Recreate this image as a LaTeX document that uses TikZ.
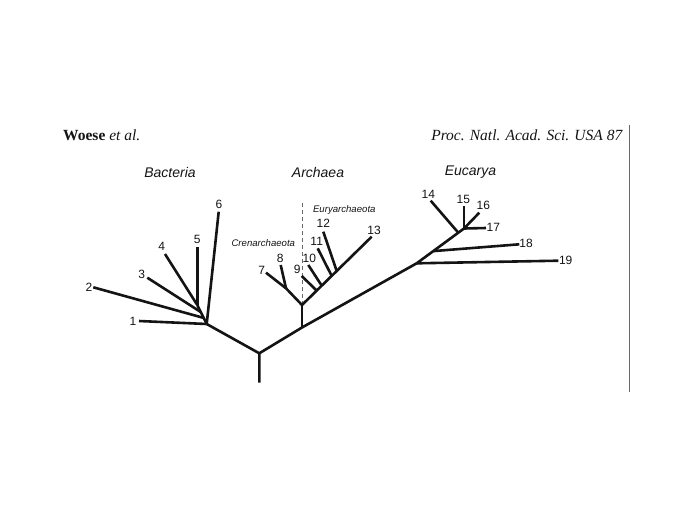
\documentclass[tikz,border=0pt]{standalone}
\usepackage{fontspec}
\setmainfont{Liberation Serif}
\setsansfont{Liberation Sans}
\usetikzlibrary{positioning,calc}
\definecolor{ink}{RGB}{20,20,20}
\definecolor{rulegray}{RGB}{105,105,105}
\tikzset{
  branch/.style={line width=2.6pt,draw=ink},
  leaf/.style={font=\sffamily\fontsize{12}{13}\selectfont,inner sep=0pt,text=ink},
  domname/.style={font=\sffamily\itshape\fontsize{14}{16}\selectfont,inner sep=0pt,text=ink},
  phylum/.style={font=\sffamily\itshape\fontsize{9.6}{11}\selectfont,inner sep=0pt,text=ink},
  head/.style={font=\fontsize{15.5}{18}\selectfont,inner sep=0pt,text=ink},
  divide/.style={draw=rulegray,line width=0.8pt,dash pattern=on 4pt off 3pt},
}

\begin{document}
\begin{tikzpicture}[x=1pt,y=-1pt]
  \useasboundingbox (0,0) rectangle (689,517);
  % header
  \node[head,anchor=base west] (author) at (63,140) {\textbf{Woese} \textit{et al.}};
  \node[head,anchor=base east] (journal) at (623,140) {\textit{Proc. Natl. Acad. Sci. USA 87}};
  \coordinate (ruletop) at (629.3,125);
  \coordinate (rulebot) at (629.3,392);
  \draw[rulegray,line width=1.2pt] (ruletop) -- (rulebot);

  % domains
  \node[domname] (bact) at (170,172) {Bacteria};
  \node[domname] (arch) at (318,172) {Archaea};
  \node[domname] (euca) at (470.5,172) {Eucarya};
  \node[phylum] (cren) at (263.3,243.3) {Crenarchaeota};
  \node[phylum] (eury) at (344.3,210) {Euryarchaeota};

  % trunk
  \coordinate (root) at (259.3,382.7);
  \coordinate (R) at (259.3,353.3);
  \coordinate (B0) at (206.7,324);
  \coordinate (A0) at (302,327.5);
  \coordinate (E0) at (416.7,263.3);
  \draw[branch] (root) -- (R) -- (B0);
  \draw[branch] (R) -- (A0) -- (E0);

  % Bacteria
  \coordinate (B3) at (197.3,305);
  \coordinate (B1) at ($(B0)!0.32!(B3)$);
  \coordinate (B2) at ($(B0)!0.63!(B3)$);
  \coordinate (t1) at (139,321);
  \coordinate (t2) at (93.3,287.3);
  \coordinate (t3) at (147.3,277.7);
  \coordinate (t4) at (165,254);
  \coordinate (t5) at (197.3,247.3);
  \coordinate (t6) at (218.7,211.7);
  \draw[branch] (B0) -- (B3);
  \draw[branch] (B0) -- (t1);
  \draw[branch] (B1) -- (t2);
  \draw[branch] (B2) -- (t3);
  \draw[branch] (B3) -- (t4);
  \draw[branch] (B3) -- (t5);
  \draw[branch] (B0) -- (t6);

  % Archaea
  \coordinate (A1) at (302,305);
  \coordinate (Atop) at (302,203);
  \draw[divide] (Atop) -- (A1);
  \draw[branch] (A0) -- (A1);
  \coordinate (C0) at (286,288.3);
  \coordinate (t7) at (266,272.7);
  \coordinate (t8) at (280.7,265);
  \draw[branch] (A1) -- (C0) -- (t7);
  \draw[branch] (C0) -- (t8);
  \coordinate (t13) at (371.7,236.7);
  \draw[branch] (A1) -- (t13);
  \coordinate (t9) at (301.7,276);
  \coordinate (t10) at (308.3,265);
  \coordinate (t11) at (317.7,248.3);
  \coordinate (t12) at (323.3,231.7);
  \draw[branch] ($(A1)!0.211!(t13)$) -- (t9);
  \draw[branch] ($(A1)!0.283!(t13)$) -- (t10);
  \draw[branch] ($(A1)!0.426!(t13)$) -- (t11);
  \draw[branch] ($(A1)!0.498!(t13)$) -- (t12);

  % Eucarya
  \coordinate (E1) at (433.3,251.1);
  \coordinate (E2) at (458.3,232.7);
  \coordinate (E3) at (464,228.5);
  \coordinate (t14) at (430.7,200.7);
  \coordinate (t15) at (464,206);
  \coordinate (t16) at (479.3,212.7);
  \coordinate (t17) at (486,228);
  \coordinate (t18) at (519.3,244.3);
  \coordinate (t19) at (558.3,260.7);
  \draw[branch] (E0) -- (E3);
  \draw[branch] (E0) -- (t19);
  \draw[branch] (E1) -- (t18);
  \draw[branch] (E2) -- (t14);
  \draw[branch] (E3) -- (t15);
  \draw[branch] (E3) -- (t16);
  \draw[branch] (E3) -- (t17);

  % leaf numbers
  \node[leaf] (n1) at (133,321) {1};
  \node[leaf] (n2) at (89,287) {2};
  \node[leaf] (n3) at (141.7,274.3) {3};
  \node[leaf] (n4) at (161.7,246.7) {4};
  \node[leaf] (n5) at (197.3,239) {5};
  \node[leaf] (n6) at (219,204) {6};
  \node[leaf] (n7) at (261.7,270) {7};
  \node[leaf] (n8) at (280.3,258.3) {8};
  \node[leaf] (n9) at (297.3,269.3) {9};
  \node[leaf] (n10) at (309.3,258.3) {10};
  \node[leaf] (n11) at (316.7,241.7) {11};
  \node[leaf] (n12) at (323.3,223.3) {12};
  \node[leaf] (n13) at (374,230) {13};
  \node[leaf] (n14) at (428.3,194) {14};
  \node[leaf] (n15) at (463.3,199) {15};
  \node[leaf] (n16) at (483.3,205.7) {16};
  \node[leaf] (n17) at (493.3,227.7) {17};
  \node[leaf] (n18) at (526,243.3) {18};
  \node[leaf] (n19) at (565.7,260.7) {19};
\end{tikzpicture}
\end{document}
